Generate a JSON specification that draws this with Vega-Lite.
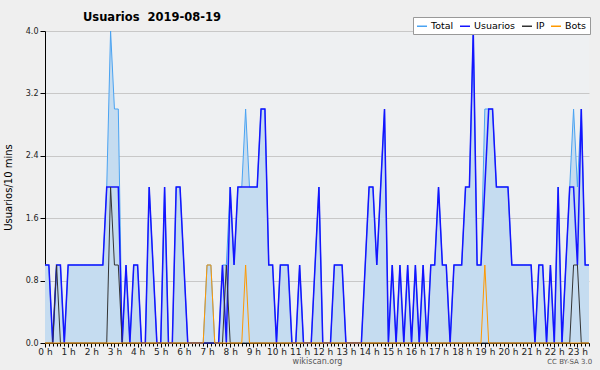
{
  "$schema": "https://vega.github.io/schema/vega-lite/v6.json",
  "width": 544,
  "height": 312,
  "autosize": {"type": "none"},
  "padding": {"left": 45, "top": 31, "right": 11, "bottom": 27},
  "background": "#efefef",
  "config": {
    "font": "DejaVu Sans",
    "view": {"fill": "#eef0f2", "stroke": null}
  },
  "title": {
    "text": "Usuarios\u00a0 2019-08-19",
    "anchor": "start",
    "frame": "group",
    "dx": 38,
    "offset": -7,
    "fontSize": 11.5,
    "fontWeight": "bold",
    "color": "#000"
  },
  "data": {
    "values": [
      {"m":0,"Total":1,"Usuarios":1,"IP":0,"Bots":0},
      {"m":10,"Total":1,"Usuarios":1,"IP":0,"Bots":0},
      {"m":20,"Total":0,"Usuarios":0,"IP":0,"Bots":0},
      {"m":30,"Total":1,"Usuarios":1,"IP":1,"Bots":0},
      {"m":40,"Total":1,"Usuarios":1,"IP":0,"Bots":0},
      {"m":50,"Total":0,"Usuarios":0,"IP":0,"Bots":0},
      {"m":60,"Total":1,"Usuarios":1,"IP":0,"Bots":0},
      {"m":70,"Total":1,"Usuarios":1,"IP":0,"Bots":0},
      {"m":80,"Total":1,"Usuarios":1,"IP":0,"Bots":0},
      {"m":90,"Total":1,"Usuarios":1,"IP":0,"Bots":0},
      {"m":100,"Total":1,"Usuarios":1,"IP":0,"Bots":0},
      {"m":110,"Total":1,"Usuarios":1,"IP":0,"Bots":0},
      {"m":120,"Total":1,"Usuarios":1,"IP":0,"Bots":0},
      {"m":130,"Total":1,"Usuarios":1,"IP":0,"Bots":0},
      {"m":140,"Total":1,"Usuarios":1,"IP":0,"Bots":0},
      {"m":150,"Total":1,"Usuarios":1,"IP":0,"Bots":0},
      {"m":160,"Total":2,"Usuarios":2,"IP":0,"Bots":0},
      {"m":170,"Total":4,"Usuarios":2,"IP":2,"Bots":0},
      {"m":180,"Total":3,"Usuarios":2,"IP":1,"Bots":0},
      {"m":190,"Total":3,"Usuarios":2,"IP":1,"Bots":0},
      {"m":200,"Total":0,"Usuarios":0,"IP":0,"Bots":0},
      {"m":210,"Total":1,"Usuarios":1,"IP":0,"Bots":0},
      {"m":220,"Total":0,"Usuarios":0,"IP":0,"Bots":0},
      {"m":230,"Total":1,"Usuarios":1,"IP":0,"Bots":0},
      {"m":240,"Total":1,"Usuarios":1,"IP":0,"Bots":0},
      {"m":250,"Total":0,"Usuarios":0,"IP":0,"Bots":0},
      {"m":260,"Total":0,"Usuarios":0,"IP":0,"Bots":0},
      {"m":270,"Total":2,"Usuarios":2,"IP":0,"Bots":0},
      {"m":280,"Total":1,"Usuarios":1,"IP":0,"Bots":0},
      {"m":290,"Total":0,"Usuarios":0,"IP":0,"Bots":0},
      {"m":300,"Total":0,"Usuarios":0,"IP":0,"Bots":0},
      {"m":310,"Total":2,"Usuarios":2,"IP":0,"Bots":0},
      {"m":320,"Total":0,"Usuarios":0,"IP":0,"Bots":0},
      {"m":330,"Total":0,"Usuarios":0,"IP":0,"Bots":0},
      {"m":340,"Total":2,"Usuarios":2,"IP":0,"Bots":0},
      {"m":350,"Total":2,"Usuarios":2,"IP":0,"Bots":0},
      {"m":360,"Total":1,"Usuarios":1,"IP":0,"Bots":0},
      {"m":370,"Total":0,"Usuarios":0,"IP":0,"Bots":0},
      {"m":380,"Total":0,"Usuarios":0,"IP":0,"Bots":0},
      {"m":390,"Total":0,"Usuarios":0,"IP":0,"Bots":0},
      {"m":400,"Total":0,"Usuarios":0,"IP":0,"Bots":0},
      {"m":410,"Total":0,"Usuarios":0,"IP":0,"Bots":0},
      {"m":420,"Total":1,"Usuarios":0,"IP":0,"Bots":1},
      {"m":430,"Total":1,"Usuarios":0,"IP":0,"Bots":1},
      {"m":440,"Total":0,"Usuarios":0,"IP":0,"Bots":0},
      {"m":450,"Total":0,"Usuarios":0,"IP":0,"Bots":0},
      {"m":460,"Total":1,"Usuarios":1,"IP":0,"Bots":0},
      {"m":470,"Total":1,"Usuarios":0,"IP":1,"Bots":0},
      {"m":480,"Total":2,"Usuarios":2,"IP":0,"Bots":0},
      {"m":490,"Total":1,"Usuarios":1,"IP":0,"Bots":0},
      {"m":500,"Total":2,"Usuarios":2,"IP":0,"Bots":0},
      {"m":510,"Total":2,"Usuarios":2,"IP":0,"Bots":0},
      {"m":520,"Total":3,"Usuarios":2,"IP":0,"Bots":1},
      {"m":530,"Total":2,"Usuarios":2,"IP":0,"Bots":0},
      {"m":540,"Total":2,"Usuarios":2,"IP":0,"Bots":0},
      {"m":550,"Total":2,"Usuarios":2,"IP":0,"Bots":0},
      {"m":560,"Total":3,"Usuarios":3,"IP":0,"Bots":0},
      {"m":570,"Total":3,"Usuarios":3,"IP":0,"Bots":0},
      {"m":580,"Total":1,"Usuarios":1,"IP":0,"Bots":0},
      {"m":590,"Total":1,"Usuarios":1,"IP":0,"Bots":0},
      {"m":600,"Total":0,"Usuarios":0,"IP":0,"Bots":0},
      {"m":610,"Total":1,"Usuarios":1,"IP":0,"Bots":0},
      {"m":620,"Total":1,"Usuarios":1,"IP":0,"Bots":0},
      {"m":630,"Total":1,"Usuarios":1,"IP":0,"Bots":0},
      {"m":640,"Total":0,"Usuarios":0,"IP":0,"Bots":0},
      {"m":650,"Total":0,"Usuarios":0,"IP":0,"Bots":0},
      {"m":660,"Total":1,"Usuarios":1,"IP":0,"Bots":0},
      {"m":670,"Total":0,"Usuarios":0,"IP":0,"Bots":0},
      {"m":680,"Total":0,"Usuarios":0,"IP":0,"Bots":0},
      {"m":690,"Total":0,"Usuarios":0,"IP":0,"Bots":0},
      {"m":700,"Total":1,"Usuarios":1,"IP":0,"Bots":0},
      {"m":710,"Total":2,"Usuarios":2,"IP":0,"Bots":0},
      {"m":720,"Total":0,"Usuarios":0,"IP":0,"Bots":0},
      {"m":730,"Total":0,"Usuarios":0,"IP":0,"Bots":0},
      {"m":740,"Total":0,"Usuarios":0,"IP":0,"Bots":0},
      {"m":750,"Total":1,"Usuarios":1,"IP":0,"Bots":0},
      {"m":760,"Total":1,"Usuarios":1,"IP":0,"Bots":0},
      {"m":770,"Total":1,"Usuarios":1,"IP":0,"Bots":0},
      {"m":780,"Total":0,"Usuarios":0,"IP":0,"Bots":0},
      {"m":790,"Total":0,"Usuarios":0,"IP":0,"Bots":0},
      {"m":800,"Total":0,"Usuarios":0,"IP":0,"Bots":0},
      {"m":810,"Total":0,"Usuarios":0,"IP":0,"Bots":0},
      {"m":820,"Total":0,"Usuarios":0,"IP":0,"Bots":0},
      {"m":830,"Total":1,"Usuarios":1,"IP":0,"Bots":0},
      {"m":840,"Total":2,"Usuarios":2,"IP":0,"Bots":0},
      {"m":850,"Total":2,"Usuarios":2,"IP":0,"Bots":0},
      {"m":860,"Total":1,"Usuarios":1,"IP":0,"Bots":0},
      {"m":870,"Total":2,"Usuarios":2,"IP":0,"Bots":0},
      {"m":880,"Total":3,"Usuarios":3,"IP":0,"Bots":0},
      {"m":890,"Total":0,"Usuarios":0,"IP":0,"Bots":0},
      {"m":900,"Total":1,"Usuarios":1,"IP":0,"Bots":0},
      {"m":910,"Total":0,"Usuarios":0,"IP":0,"Bots":0},
      {"m":920,"Total":1,"Usuarios":1,"IP":0,"Bots":0},
      {"m":930,"Total":0,"Usuarios":0,"IP":0,"Bots":0},
      {"m":940,"Total":1,"Usuarios":1,"IP":0,"Bots":0},
      {"m":950,"Total":0,"Usuarios":0,"IP":0,"Bots":0},
      {"m":960,"Total":1,"Usuarios":1,"IP":0,"Bots":0},
      {"m":970,"Total":0,"Usuarios":0,"IP":0,"Bots":0},
      {"m":980,"Total":1,"Usuarios":1,"IP":0,"Bots":0},
      {"m":990,"Total":0,"Usuarios":0,"IP":0,"Bots":0},
      {"m":1000,"Total":1,"Usuarios":1,"IP":0,"Bots":0},
      {"m":1010,"Total":1,"Usuarios":1,"IP":0,"Bots":0},
      {"m":1020,"Total":2,"Usuarios":2,"IP":0,"Bots":0},
      {"m":1030,"Total":1,"Usuarios":1,"IP":0,"Bots":0},
      {"m":1040,"Total":1,"Usuarios":1,"IP":0,"Bots":0},
      {"m":1050,"Total":0,"Usuarios":0,"IP":0,"Bots":0},
      {"m":1060,"Total":1,"Usuarios":1,"IP":0,"Bots":0},
      {"m":1070,"Total":1,"Usuarios":1,"IP":0,"Bots":0},
      {"m":1080,"Total":1,"Usuarios":1,"IP":0,"Bots":0},
      {"m":1090,"Total":2,"Usuarios":2,"IP":0,"Bots":0},
      {"m":1100,"Total":2,"Usuarios":2,"IP":0,"Bots":0},
      {"m":1110,"Total":4,"Usuarios":4,"IP":0,"Bots":0},
      {"m":1120,"Total":1,"Usuarios":1,"IP":0,"Bots":0},
      {"m":1130,"Total":1,"Usuarios":1,"IP":0,"Bots":0},
      {"m":1140,"Total":3,"Usuarios":2,"IP":0,"Bots":1},
      {"m":1150,"Total":3,"Usuarios":3,"IP":0,"Bots":0},
      {"m":1160,"Total":3,"Usuarios":3,"IP":0,"Bots":0},
      {"m":1170,"Total":2,"Usuarios":2,"IP":0,"Bots":0},
      {"m":1180,"Total":2,"Usuarios":2,"IP":0,"Bots":0},
      {"m":1190,"Total":2,"Usuarios":2,"IP":0,"Bots":0},
      {"m":1200,"Total":2,"Usuarios":2,"IP":0,"Bots":0},
      {"m":1210,"Total":1,"Usuarios":1,"IP":0,"Bots":0},
      {"m":1220,"Total":1,"Usuarios":1,"IP":0,"Bots":0},
      {"m":1230,"Total":1,"Usuarios":1,"IP":0,"Bots":0},
      {"m":1240,"Total":1,"Usuarios":1,"IP":0,"Bots":0},
      {"m":1250,"Total":1,"Usuarios":1,"IP":0,"Bots":0},
      {"m":1260,"Total":1,"Usuarios":1,"IP":0,"Bots":0},
      {"m":1270,"Total":0,"Usuarios":0,"IP":0,"Bots":0},
      {"m":1280,"Total":1,"Usuarios":1,"IP":0,"Bots":0},
      {"m":1290,"Total":1,"Usuarios":1,"IP":0,"Bots":0},
      {"m":1300,"Total":0,"Usuarios":0,"IP":0,"Bots":0},
      {"m":1310,"Total":1,"Usuarios":1,"IP":0,"Bots":0},
      {"m":1320,"Total":0,"Usuarios":0,"IP":0,"Bots":0},
      {"m":1330,"Total":2,"Usuarios":2,"IP":0,"Bots":0},
      {"m":1340,"Total":0,"Usuarios":0,"IP":0,"Bots":0},
      {"m":1350,"Total":1,"Usuarios":1,"IP":0,"Bots":0},
      {"m":1360,"Total":2,"Usuarios":2,"IP":0,"Bots":0},
      {"m":1370,"Total":3,"Usuarios":2,"IP":1,"Bots":0},
      {"m":1380,"Total":2,"Usuarios":1,"IP":1,"Bots":0},
      {"m":1390,"Total":3,"Usuarios":3,"IP":0,"Bots":0},
      {"m":1400,"Total":1,"Usuarios":1,"IP":0,"Bots":0},
      {"m":1410,"Total":1,"Usuarios":1,"IP":0,"Bots":0}
    ]
  },
  "encoding": {
    "x": {
      "field": "m",
      "type": "quantitative",
      "scale": {"domain": [0, 1410], "nice": false, "zero": false},
      "axis": {
        "values": [0,10,20,30,40,50,60,70,80,90,100,110,120,130,140,150,160,170,180,190,200,210,220,230,240,250,260,270,280,290,300,310,320,330,340,350,360,370,380,390,400,410,420,430,440,450,460,470,480,490,500,510,520,530,540,550,560,570,580,590,600,610,620,630,640,650,660,670,680,690,700,710,720,730,740,750,760,770,780,790,800,810,820,830,840,850,860,870,880,890,900,910,920,930,940,950,960,970,980,990,1000,1010,1020,1030,1040,1050,1060,1070,1080,1090,1100,1110,1120,1130,1140,1150,1160,1170,1180,1190,1200,1210,1220,1230,1240,1250,1260,1270,1280,1290,1300,1310,1320,1330,1340,1350,1360,1370,1380,1390,1400,1410],
        "labelExpr": "datum.value % 60 == 0 ? (datum.value / 60) + ' h' : ''",
        "labelOverlap": false,
        "labelBound": false,
        "labelFlush": false,
        "labelFontSize": 9,
        "labelColor": "#222",
        "labelPadding": 0,
        "tickSize": {"condition": {"test": "datum.value % 60 == 0", "value": 4}, "value": 3},
        "tickColor": "#000",
        "domainColor": "#000",
        "grid": false,
        "title": "wikiscan.org",
        "titleFontSize": 8,
        "titleFontWeight": "normal",
        "titleColor": "#555",
        "titlePadding": 1
      }
    }
  },
  "layer": [
    {
      "mark": {"type": "area", "color": "#c5dcf0", "opacity": 1},
      "encoding": {
        "y": {
          "field": "Total",
          "type": "quantitative",
          "scale": {"domain": [0, 4], "nice": false},
          "axis": {
            "values": [0,0.4,0.8,1.2,1.6,2.0,2.4,2.8,3.2,3.6,4.0],
            "labelExpr": "round(datum.value * 10) % 8 == 0 ? format(datum.value, '.1f') : ''",
            "labelFontSize": 8,
            "labelColor": "#222",
            "labelPadding": 2,
            "tickSize": {"condition": {"test": "round(datum.value * 10) % 8 == 0", "value": 5}, "value": 3},
            "tickColor": "#000",
            "domainColor": "#000",
            "grid": true,
            "gridColor": "#c8c8c8",
            "gridOpacity": {"condition": {"test": "round(datum.value * 10) % 8 == 0", "value": 1}, "value": 0},
            "title": "Usuarios/10 mins",
            "titleFontSize": 10,
            "titleFontWeight": "normal",
            "titleColor": "#000",
            "titlePadding": 12
          }
        }
      }
    },
    {
      "transform": [{"fold": ["Total", "Usuarios", "IP", "Bots"], "as": ["serie", "v"]}],
      "mark": {"type": "line", "interpolate": "linear"},
      "encoding": {
        "y": {"field": "v", "type": "quantitative"},
        "color": {
          "field": "serie",
          "type": "nominal",
          "sort": ["Total", "Usuarios", "IP", "Bots"],
          "scale": {"domain": ["Total", "Usuarios", "IP", "Bots"], "range": ["#4aa3f2", "#1414ff", "#333333", "#ff9900"]},
          "legend": {
            "title": null,
            "orient": "none",
            "legendX": 368,
            "legendY": -14,
            "direction": "horizontal",
            "fillColor": "#ffffff",
            "strokeColor": "#999999",
            "padding": 3,
            "symbolType": "stroke",
            "symbolSize": 100,
            "symbolStrokeWidth": 1.5,
            "labelFontSize": 9.5,
            "labelColor": "#000",
            "columnPadding": 3,
            "labelOffset": 3
          }
        },
        "strokeWidth": {"condition": {"test": "datum.serie == 'Usuarios'", "value": 1.5}, "value": 1}
      }
    },
    {
      "transform": [{"filter": "datum.m == 1360"}],
      "mark": {"type": "text", "text": "CC BY-SA 3.0", "fontSize": 7, "color": "#555", "align": "center", "baseline": "middle", "clip": false},
      "encoding": {
        "y": {"datum": -0.245}
      }
    }
  ]
}
